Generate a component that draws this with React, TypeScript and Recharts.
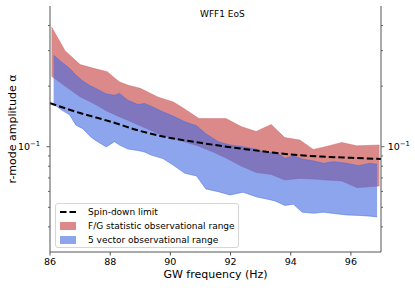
import React from 'react';
import { ComposedChart, Area, Line, XAxis, YAxis } from 'recharts';

// F/G statistic observational range
const fgFreq = [86.05, 86.5, 87.0, 87.45, 87.9, 88.3, 88.6, 89.0, 89.6, 90.1, 90.45, 90.95, 91.4, 91.85, 92.35, 92.85, 93.35, 93.8, 94.3, 94.75, 95.15, 95.7, 96.2, 96.95];
const fgUpper = [0.394, 0.3, 0.256, 0.245, 0.236, 0.21, 0.202, 0.195, 0.176, 0.167, 0.155, 0.138, 0.138, 0.138, 0.126, 0.119, 0.129, 0.111, 0.108, 0.097, 0.1, 0.105, 0.101, 0.102];
const fgLower = [0.224, 0.2, 0.177, 0.164, 0.15, 0.141, 0.135, 0.127, 0.116, 0.11, 0.106, 0.1005, 0.0944, 0.0879, 0.0802, 0.0745, 0.0728, 0.0684, 0.0696, 0.0691, 0.0684, 0.0676, 0.0626, 0.0638];

// 5 vector observational range
const vecFreq = [86.12, 86.39, 86.65, 86.86, 87.09, 87.35, 87.49, 87.87, 88.14, 88.31, 88.59, 88.92, 89.14, 89.36, 89.75, 90.09, 90.48, 90.87, 91.18, 91.59, 91.98, 92.42, 92.87, 93.2, 93.48, 93.81, 94.09, 94.38, 94.76, 95.09, 95.42, 95.87, 96.25, 96.64, 96.87];
const vecUpper = [0.285, 0.263, 0.245, 0.227, 0.212, 0.2, 0.196, 0.183, 0.18, 0.184, 0.17, 0.162, 0.164, 0.159, 0.149, 0.142, 0.133, 0.127, 0.116, 0.106, 0.102, 0.1, 0.097, 0.0927, 0.0944, 0.0876, 0.0899, 0.0869, 0.0849, 0.0827, 0.0843, 0.0827, 0.0805, 0.0827, 0.0818];
const vecLower = [0.163, 0.152, 0.144, 0.128, 0.123, 0.112, 0.108, 0.0997, 0.106, 0.102, 0.0974, 0.0958, 0.0941, 0.0909, 0.0874, 0.0811, 0.0738, 0.0716, 0.0617, 0.0598, 0.0576, 0.0594, 0.0563, 0.055, 0.0538, 0.0511, 0.0518, 0.0473, 0.0467, 0.0473, 0.0466, 0.0458, 0.0456, 0.0452, 0.0448];

// spin-down limit
const sdFreq = [86, 87, 88, 89, 90, 91, 92, 93, 94, 95, 96, 97];
const sdLimit = [0.1647, 0.147, 0.1334, 0.1197, 0.1105, 0.1046, 0.0994, 0.0952, 0.0915, 0.0894, 0.0881, 0.0869];

const xTicks = [86, 88, 90, 92, 94, 96];
const yTicks = [0.04, 0.05, 0.06, 0.07, 0.08, 0.09, 0.1, 0.2, 0.3, 0.4];

const RED = '#cd5c5c';
const BLUE = '#4169e1';
const AXIS = '#555';
const FONT = '"DejaVu Sans", sans-serif';

const fgData = fgFreq.map((f, i) => ({ f, band: [fgLower[i], fgUpper[i]] }));
const vecData = vecFreq.map((f, i) => ({ f, band: [vecLower[i], vecUpper[i]] }));
const sdData = sdFreq.map((f, i) => ({ f, a: sdLimit[i] }));

function LogTick(props: any) {
  const { x, y, payload, side } = props;
  const major = payload.value === 0.1;
  const dir = side === 'left' ? -1 : 1;
  const len = major ? 3.5 : 2;
  return (
    <g>
      <line x1={x} x2={x + dir * len} y1={y} y2={y} stroke={AXIS} strokeWidth={0.9} />
      {major && (
        <text
          x={side === 'left' ? x - 10 : x + 6.7}
          y={y}
          dy="0.35em"
          textAnchor={side === 'left' ? 'end' : 'start'}
          fontSize={9.5}
          fontFamily={FONT}
          fill="#000"
        >
          10<tspan dy={-4} fontSize={6.8}>−1</tspan>
        </text>
      )}
    </g>
  );
}

function LegendBox() {
  const row = (handle: React.ReactNode, label: string, top: number) => (
    <div style={{ position: 'absolute', left: 3, top, height: 12, display: 'flex', alignItems: 'center' }}>
      <svg width={22} height={12} style={{ display: 'block' }}>{handle}</svg>
      <span style={{ marginLeft: 7, fontSize: 9, lineHeight: '12px', whiteSpace: 'nowrap' }}>{label}</span>
    </div>
  );
  return (
    <div
      style={{
        position: 'absolute', left: 55, top: 203, width: 182, height: 43,
        border: '1px solid #d6d6d6', borderRadius: 3, background: 'rgba(255,255,255,0.8)',
        fontFamily: FONT, color: '#000',
      }}
    >
      {row(<line x1={1} x2={17} y1={6} y2={6} stroke="#000" strokeWidth={2} strokeDasharray="6.5 3" />, 'Spin-down limit', 1.5)}
      {row(<rect x={1} y={2} width={16} height={8} fill={RED} fillOpacity={0.72} />, 'F/G statistic observational range', 15.5)}
      {row(<rect x={1} y={2} width={16} height={8} fill={BLUE} fillOpacity={0.6} />, '5 vector observational range', 29.5)}
    </div>
  );
}

export default function App() {
  return (
    <div style={{ position: 'absolute', left: 0, top: 0, width: 415, height: 288, background: '#fff', fontFamily: FONT }}>
      <ComposedChart width={415} height={288} margin={{ top: 6, right: 0, bottom: 0, left: 0 }}>
        <XAxis
          dataKey="f"
          type="number"
          domain={[86, 97]}
          ticks={xTicks}
          interval={0}
          allowDataOverflow
          height={36}
          tickSize={3.5}
          tickMargin={3}
          stroke={AXIS}
          tick={{ fontSize: 9.5, fill: '#000', fontFamily: FONT }}
        />
        <XAxis xAxisId="top" orientation="top" type="number" domain={[86, 97]} height={0} tick={false} tickLine={false} stroke={AXIS} />
        <YAxis
          scale="log"
          domain={[0.03, 0.5]}
          allowDataOverflow
          ticks={yTicks}
          interval={0}
          width={50}
          tickSize={0}
          tickMargin={0}
          tickLine={false}
          stroke={AXIS}
          tick={(p: any) => <LogTick {...p} side="left" />}
        />
        <YAxis
          yAxisId="right"
          orientation="right"
          scale="log"
          domain={[0.03, 0.5]}
          allowDataOverflow
          ticks={yTicks}
          interval={0}
          width={34}
          tickSize={0}
          tickMargin={0}
          tickLine={false}
          stroke={AXIS}
          tick={(p: any) => <LogTick {...p} side="right" />}
        />
        <Area
          data={fgData}
          dataKey="band"
          type="linear"
          fill={RED}
          fillOpacity={0.72}
          stroke={RED}
          strokeOpacity={0.5}
          strokeWidth={0.8}
          isAnimationActive={false}
          dot={false}
          activeDot={false}
        />
        <Area
          data={vecData}
          dataKey="band"
          type="linear"
          fill={BLUE}
          fillOpacity={0.6}
          stroke={BLUE}
          strokeOpacity={0.6}
          strokeWidth={0.8}
          isAnimationActive={false}
          dot={false}
          activeDot={false}
        />
        <Line
          data={sdData}
          dataKey="a"
          type="monotone"
          stroke="#000"
          strokeWidth={2}
          strokeDasharray="6.5 3"
          dot={false}
          activeDot={false}
          isAnimationActive={false}
        />
      </ComposedChart>

      <div style={{ position: 'absolute', left: 200, top: 8.5, fontSize: 9, lineHeight: '10px', color: '#000', whiteSpace: 'nowrap' }}>
        WFF1 EoS
      </div>
      <div style={{ position: 'absolute', left: 115.5, width: 200, top: 269, fontSize: 11, lineHeight: '12px', textAlign: 'center', color: '#000' }}>
        GW frequency (Hz)
      </div>
      <div
        style={{
          position: 'absolute', left: 13 - 100, top: 128.5 - 6, width: 200, height: 12,
          fontSize: 11, lineHeight: '12px', textAlign: 'center', color: '#000', transform: 'rotate(-90deg)',
        }}
      >
        r-mode amplitude α
      </div>
      <LegendBox />
    </div>
  );
}
